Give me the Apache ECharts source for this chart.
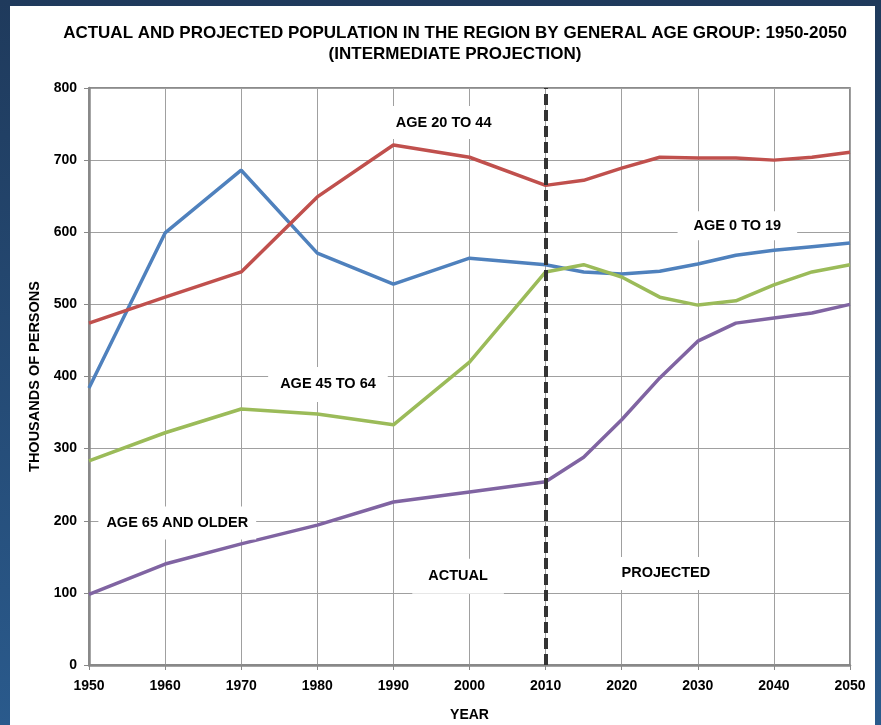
<!DOCTYPE html>
<html>
<head>
<meta charset="utf-8">
<script src="https://cdn.jsdelivr.net/npm/echarts@6/dist/echarts.min.js"></script>
<style>
  html, body { margin: 0; padding: 0; }
  body {
    width: 881px; height: 725px; overflow: hidden;
    background: linear-gradient(180deg, #1f3a5c 0%, #2a5a8c 100%);
    position: relative;
  }
  #chart {
    position: absolute; left: 10px; top: 6px;
    width: 865px; height: 719px; background: #fff;
  }
</style>
</head>
<body>
<div id="chart"></div>
<script>
// years on the x axis
var years = [1950, 1960, 1970, 1980, 1990, 2000, 2010, 2015, 2020, 2025, 2030, 2035, 2040, 2045, 2050]
// thousands of persons
var age0to19 = [384, 599, 686, 571, 528, 564, 555, 545, 542, 546, 556, 568, 575, 580, 585]
var age20to44 = [474, 510, 545, 649, 721, 704, 665, 672, 689, 704, 703, 703, 700, 704, 711]
var age45to64 = [283, 322, 355, 348, 333, 420, 545, 555, 538, 510, 499, 505, 527, 545, 555]
var age65plus = [98, 140, 168, 194, 226, 240, 254, 288, 340, 398, 449, 474, 481, 488, 500]
var splitYear = 2010

var myChart = echarts.init(document.getElementById('chart'))

// zip years with values
function pairs (vals) {
    var tmp = []
    for (var i = 0; i < years.length; i++) {
        tmp.push([years[i], vals[i]])
    }
    return tmp
}

var font = '"Liberation Sans", Arial, sans-serif'

// white boxed annotation at a data coordinate
function note (text, x, y, pad) {
    return {
        coord: [x, y],
        symbol: 'rect',
        symbolSize: 1,
        itemStyle: { color: 'rgba(0,0,0,0)' },
        label: {
            show: true,
            position: 'inside',
            formatter: text,
            color: '#000',
            fontFamily: font,
            fontWeight: 'bold',
            fontSize: 14.5,
            backgroundColor: '#fff',
            padding: pad
        }
    }
}

function lineSeries (name, vals, color, notes) {
    return {
        type: 'line',
        name: name,
        data: pairs(vals),
        symbol: 'none',
        lineStyle: { color: color, width: 3.5 },
        itemStyle: { color: color },
        z: 3,
        markPoint: notes ? { silent: true, data: notes, z: 5 } : undefined
    }
}

myChart.setOption({
    animation: false,
    graphic: [{
        type: 'text',
        x: 445,
        y: 17,
        style: {
            text: 'ACTUAL AND PROJECTED POPULATION IN THE REGION BY GENERAL AGE GROUP: 1950-2050\n(INTERMEDIATE PROJECTION)',
            fill: '#000',
            font: 'bold 17px ' + font,
            align: 'center',
            lineHeight: 21
        }
    }],
    grid: {
        left: 79, right: 25, top: 82, bottom: 60,
        outerBoundsMode: 'none',
        show: true, borderColor: '#666', borderWidth: 1.5
    },
    xAxis: {
        type: 'value',
        min: 1950, max: 2050, interval: 10,
        name: 'YEAR',
        nameLocation: 'middle',
        nameGap: 43,
        nameTextStyle: { fontFamily: font, fontWeight: 'bold', fontSize: 14, color: '#000' },
        axisLine: { show: true, lineStyle: { color: '#888', width: 2.5 } },
        axisTick: { show: true, length: 5, lineStyle: { color: '#888' } },
        axisLabel: {
            margin: 14, color: '#000', fontFamily: font, fontWeight: 'bold', fontSize: 14,
            formatter: function (v) { return String(v) }
        },
        splitLine: { show: true, lineStyle: { color: '#a0a0a0', width: 1 } }
    },
    yAxis: {
        type: 'value',
        min: 0, max: 800, interval: 100,
        name: 'THOUSANDS OF PERSONS',
        nameLocation: 'middle',
        nameRotate: 90,
        nameGap: 47,
        nameTextStyle: { fontFamily: font, fontWeight: 'bold', fontSize: 14.5, color: '#000' },
        axisLine: { show: true, lineStyle: { color: '#888', width: 2.5 } },
        axisTick: { show: true, length: 5, lineStyle: { color: '#888' } },
        axisLabel: { margin: 12, color: '#000', fontFamily: font, fontWeight: 'bold', fontSize: 14 },
        splitLine: { show: true, lineStyle: { color: '#a0a0a0', width: 1 } }
    },
    series: [
        lineSeries('AGE 0 TO 19', age0to19, '#4f81bd', [note('AGE 0 TO 19', 2035.2, 609, [7, 16])]),
        lineSeries('AGE 20 TO 44', age20to44, '#c0504d', [note('AGE 20 TO 44', 1996.6, 752, [9, 12])]),
        lineSeries('AGE 45 TO 64', age45to64, '#9bbb59', [note('AGE 45 TO 64', 1981.4, 389, [10, 12])]),
        lineSeries('AGE 65 AND OLDER', age65plus, '#8064a2', [
            note('AGE 65 AND OLDER', 1961.6, 197, [9, 8]),
            note('ACTUAL', 1998.5, 123, [10, 16]),
            note('PROJECTED', 2025.8, 127, [9, 16])
        ]),
        {
            // actual / projected divider
            type: 'line',
            data: [],
            z: 6,
            markLine: {
                silent: true,
                symbol: 'none',
                label: { show: false },
                lineStyle: { color: '#333', width: 4, type: [11, 5] },
                data: [{ xAxis: splitYear }]
            }
        }
    ]
})
</script>
</body>
</html>
